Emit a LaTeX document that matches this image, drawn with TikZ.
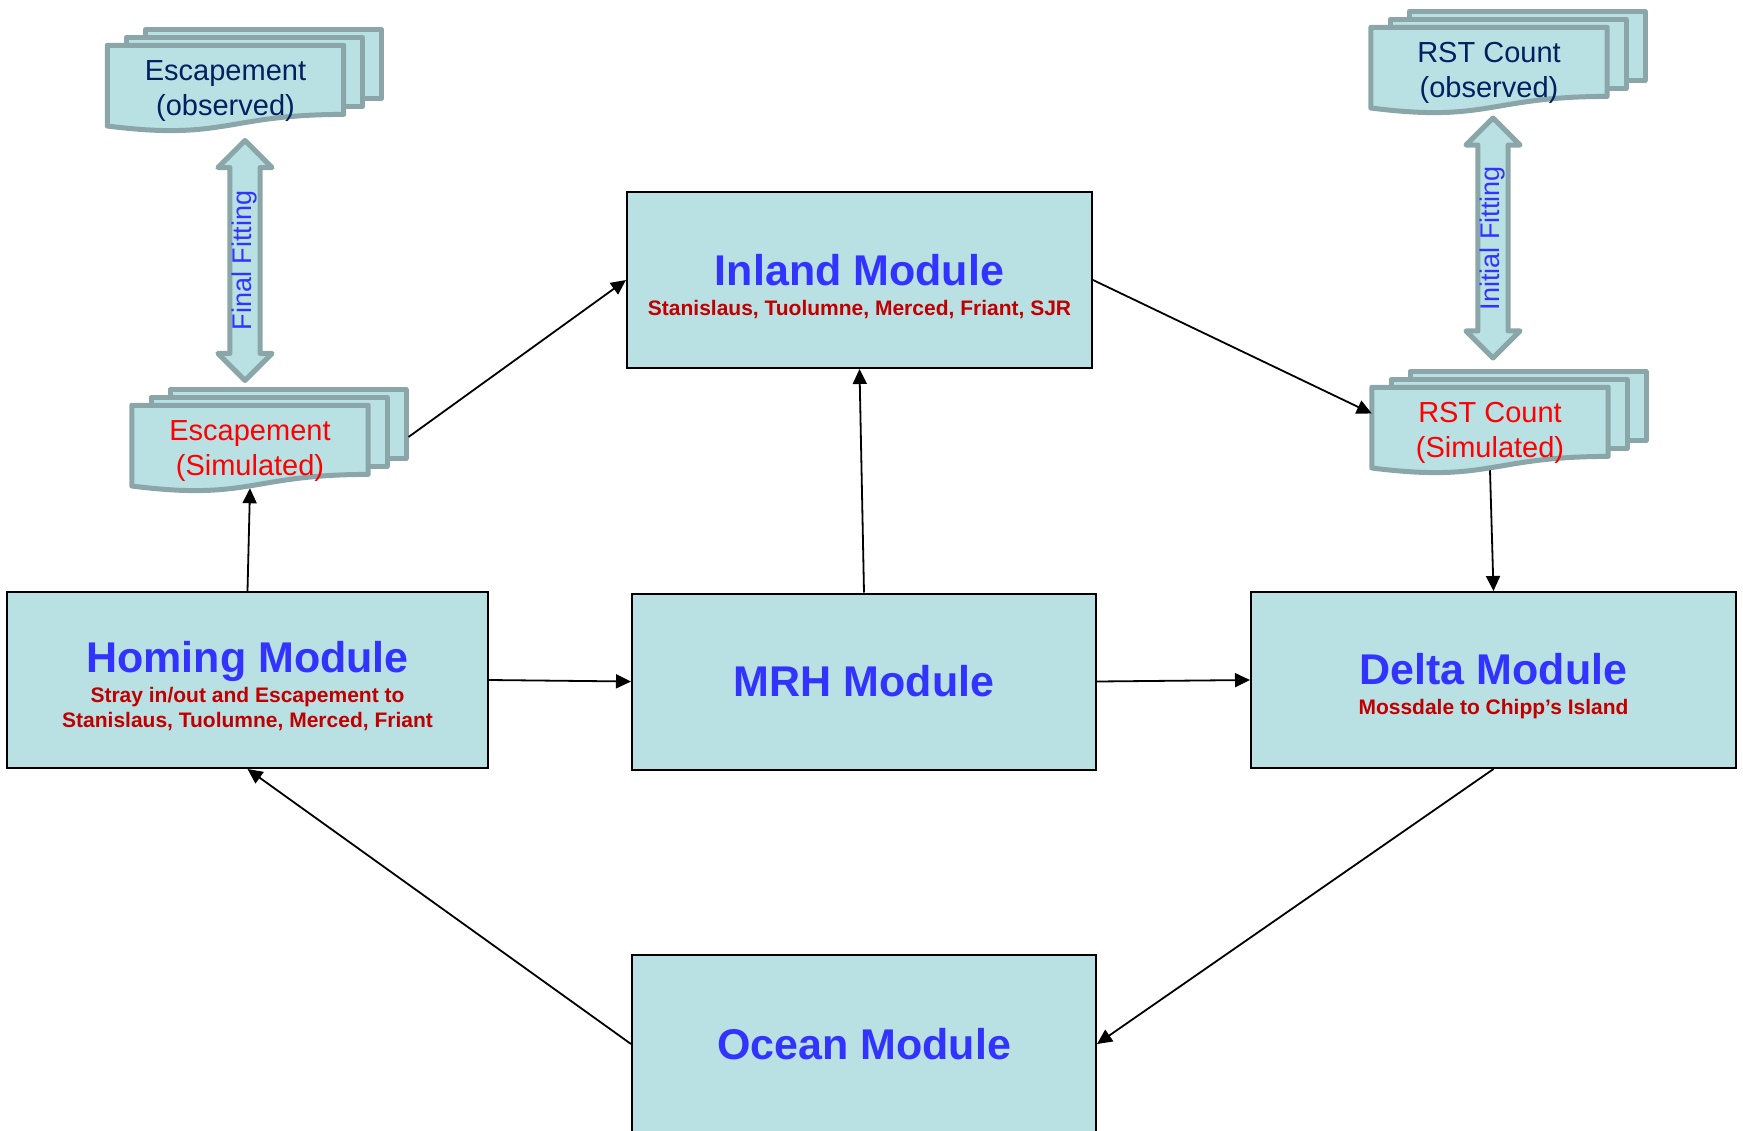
\documentclass[tikz,border=0pt]{standalone}
\usepackage{fontspec}
\setmainfont{Liberation Sans}
\usetikzlibrary{arrows.meta,positioning,calc,backgrounds,shapes.arrows}
\definecolor{boxfill}{RGB}{185,224,227}
\definecolor{docline}{RGB}{138,166,168}
\definecolor{titleblue}{RGB}{51,51,255}
\definecolor{subred}{RGB}{192,0,0}
\definecolor{obsnavy}{RGB}{0,32,96}
\definecolor{simred}{RGB}{255,0,0}
\newcommand{\modsub}{\fontsize{21}{25}\selectfont\color{subred}}
\newcommand{\modtop}{\rule{0pt}{44pt}}
% stacked document: name, centre, text colour, text
\newcommand{\multidoc}[4]{%
  \node[doc,text=#3] (#1) at (#2) {\rule{0pt}{25pt}#4};
  \begin{scope}[on background layer]
    \node[docpage] (#1b2) at ($(#1)+(38,-24.5)$) {};
    \node[docpage] (#1b1) at ($(#1)+(19,-16.5)$) {};
    \draw[docpath] (#1.north west) -- (#1.north east) -- ($(#1.north east)!0.8!(#1.south east)$) .. controls ($(#1.north)!0.8!(#1.south)$) and ($(#1.north)!1.108!(#1.south)$) .. ($(#1.north west)!0.934!(#1.south west)$) -- cycle;
  \end{scope}
  \coordinate (#1w) at ($(#1.north)!0.96!(#1.south)$);
}

\begin{document}
\begin{tikzpicture}[x=1pt,y=-1pt,modbox/.style={draw,line width=2pt,fill=boxfill,align=center,minimum height=176pt,inner sep=0pt,text=titleblue,font=\fontsize{43}{46}\selectfont\bfseries},doc/.style={minimum width=236pt,minimum height=86pt,inner sep=0pt,align=center,font=\fontsize{29}{35.5}\selectfont},docpage/.style={draw=docline,line width=5pt,line join=round,fill=boxfill,minimum width=236pt,minimum height=69pt,inner sep=0pt},docpath/.style={draw=docline,line width=5pt,line join=round,fill=boxfill},fitarrow/.style={double arrow,rotate=90,draw=docline,line width=5pt,line join=round,fill=boxfill,double arrow head extend=12pt,minimum height=240pt,inner sep=0pt,text=titleblue,font=\fontsize{27}{29}\selectfont},arr/.style={-{Triangle[length=15pt,width=14pt]},line width=1.8pt}]
\clip (0,0) rectangle (1743,1130);
% modules
\node[modbox,minimum width=465pt] (inland) at (859.5,280) {\modtop Inland Module\\[-16pt]{\modsub Stanislaus, Tuolumne, Merced, Friant, SJR}};
\node[modbox,minimum width=481pt] (homing) at (247.5,680) {\modtop Homing Module\\[-16pt]{\modsub Stray in/out and Escapement to}\\[-21pt]{\modsub Stanislaus, Tuolumne, Merced, Friant}};
\node[modbox,minimum width=464pt] (mrh) at (864,681.5) {MRH Module};
\node[modbox,minimum width=485pt] (delta) at (1493.5,680) {\modtop Delta Module\\[-16pt]{\modsub Mossdale to Chipp’s Island}};
\node[modbox,minimum width=464pt,minimum height=178pt] (ocean) at (864,1044) {Ocean Module};
% observed and simulated counts
\multidoc{escobs}{225.5,88.5}{obsnavy}{Escapement\\(observed)}
\multidoc{escsim}{250,448.5}{simred}{Escapement\\(Simulated)}
\multidoc{rstobs}{1489,70.5}{obsnavy}{RST Count\\(observed)}
\multidoc{rstsim}{1490,430.5}{simred}{RST Count\\(Simulated)}
\node[fitarrow] (finalfit) at (245,260.5) {Final Fitting};
\node[fitarrow] (initfit) at (1493,238) {Initial Fitting};
% flows
\draw[arr] (homing.north) -- (escsimw);
\draw[arr] ([yshift=-13pt]escsimb2.east) -- (inland.west);
\draw[arr] (homing.east) -- (mrh.west);
\draw[arr] (mrh.north) -- (inland.south);
\draw[arr] (mrh.east) -- (delta.west);
\draw[arr] (inland.east) -- ([yshift=17pt]rstsim.west);
\draw[arr] (rstsimw) -- (delta.north);
\draw[arr] (delta.south) -- (ocean.east);
\draw[arr] (ocean.west) -- (homing.south);
\end{tikzpicture}
\end{document}
